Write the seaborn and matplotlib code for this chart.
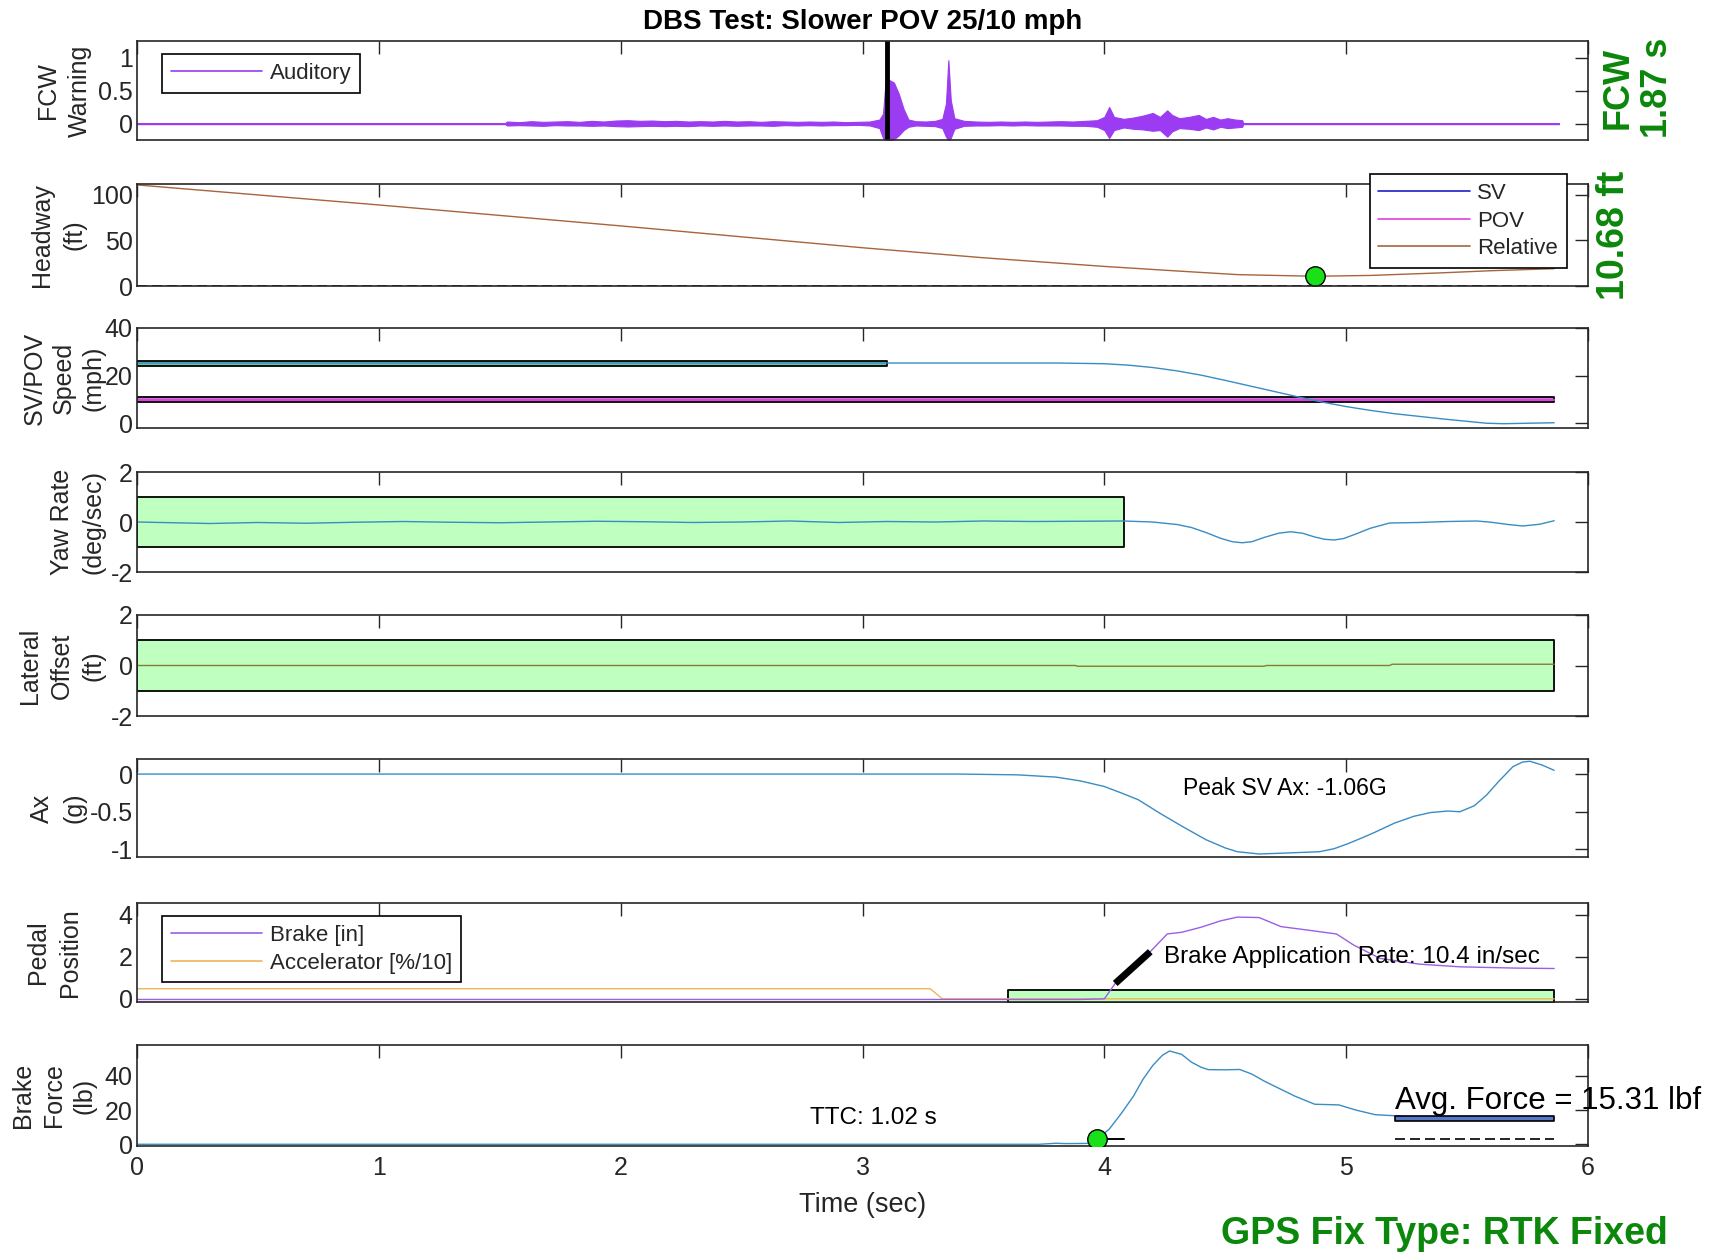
import matplotlib
matplotlib.use("Agg")
import matplotlib.pyplot as plt
from matplotlib.lines import Line2D
import seaborn as sns

sns.set_style("white")
plt.rcParams["font.family"] = ["Liberation Sans", "DejaVu Sans"]
plt.rcParams["axes.unicode_minus"] = False

# ---------------- data ----------------
time_ticks = [0, 1, 2, 3, 4, 5, 6]
t_end = 5.86

# FCW auditory signal (envelope of the recorded waveform)
aud_t = [0.00, 1.52, 1.53, 1.58, 1.63, 1.68, 1.73, 1.78, 1.83, 1.88,
         1.93, 1.98, 2.03, 2.08, 2.13, 2.18, 2.23, 2.28, 2.33, 2.38,
         2.43, 2.48, 2.53, 2.58, 2.63, 2.68, 2.73, 2.78, 2.83, 2.88,
         2.93, 2.98, 3.03, 3.07, 3.085, 3.095, 3.11, 3.13, 3.15, 3.17,
         3.19, 3.22, 3.26, 3.30, 3.33, 3.345, 3.355, 3.365, 3.38, 3.42,
         3.47, 3.52, 3.57, 3.62, 3.67, 3.72, 3.77, 3.82, 3.87, 3.92,
         3.97, 4.00, 4.02, 4.04, 4.08, 4.12, 4.16, 4.20, 4.23, 4.26,
         4.28, 4.31, 4.35, 4.39, 4.42, 4.45, 4.48, 4.51, 4.54, 4.57,
         4.575, 5.88]
aud_hi = [0, 0, .03, .02, .035, .025, .03, .035, .025, .04,
          .03, .045, .05, .04, .045, .035, .04, .03, .035, .03,
          .04, .03, .035, .025, .035, .03, .025, .03, .025, .03,
          .02, .025, .03, .06, .15, .62, .66, .62, .45, .22,
          .06, .035, .03, .04, .07, .3, .96, .35, .08, .04,
          .03, .025, .03, .025, .03, .025, .03, .035, .03, .04,
          .05, .1, .25, .1, .07, .09, .12, .16, .1, .2,
          .13, .08, .1, .13, .07, .1, .06, .08, .06, .05,
          0, 0]
aud_lo = [0, 0, -.03, -.025, -.03, -.035, -.025, -.03, -.03, -.035,
          -.03, -.04, -.045, -.04, -.035, -.04, -.035, -.04, -.03, -.035,
          -.03, -.035, -.03, -.03, -.035, -.025, -.03, -.025, -.03, -.025,
          -.025, -.02, -.03, -.07, -.22, -.25, -.25, -.24, -.18, -.1,
          -.05, -.03, -.035, -.04, -.07, -.2, -.25, -.22, -.08, -.035,
          -.03, -.03, -.025, -.03, -.025, -.03, -.03, -.03, -.035, -.035,
          -.05, -.1, -.22, -.1, -.06, -.08, -.09, -.11, -.1, -.2,
          -.12, -.07, -.08, -.1, -.06, -.09, -.05, -.07, -.06, -.05,
          0, 0]
aud_base_t = [0.0, 5.88]
aud_base = [0.0, 0.0]
fcw_onset = 3.10
fcw_ttc = 1.87

# headway (ft)
head_t = [0.0, 1.0, 2.0, 3.0, 3.5, 4.0, 4.3, 4.55, 4.87, 5.1, 5.4, 5.6, 5.86]
head_rel = [111, 89, 66, 42, 31, 21.5, 16.5, 12.5, 10.68, 11.6, 14.5, 16.8, 19.0]
head_dash_t = [0.0, 5.84]
head_dash = [0.0, 0.0]
min_head_t = 4.87
min_head = 10.68

# SV / POV speed (mph)
sv_t = [0.0, 3.1, 3.5, 3.8, 4.0, 4.1, 4.2, 4.3, 4.4, 4.5, 4.6, 4.7, 4.8,
        4.9, 5.0, 5.1, 5.2, 5.3, 5.4, 5.5, 5.58, 5.65, 5.75, 5.86]
sv_speed = [25.3, 25.3, 25.3, 25.3, 25.0, 24.4, 23.4, 22.0, 20.2, 18.0, 15.7,
            13.4, 11.1, 8.9, 7.0, 5.4, 4.0, 2.9, 1.8, 0.8, 0.0, -0.2, 0.0, 0.2]
sv_target = 25.0
sv_band_end = 3.1
pov_target = 9.9
speed_tol = 1.0

# yaw rate (deg/s)
yaw_t = [0.0, 0.15, 0.3, 0.5, 0.7, 0.9, 1.1, 1.3, 1.5, 1.7, 1.9, 2.1, 2.3,
         2.5, 2.7, 2.9, 3.1, 3.3, 3.5, 3.7, 3.9, 4.08, 4.2, 4.3, 4.36, 4.42,
         4.48, 4.53, 4.57, 4.61, 4.66, 4.72, 4.77, 4.82, 4.87, 4.91, 4.95,
         4.99, 5.04, 5.1, 5.18, 5.3, 5.42, 5.54, 5.6, 5.67, 5.73, 5.8, 5.86]
yaw = [0.0, -0.03, -0.06, -0.02, -0.05, -0.01, 0.02, -0.01, -0.03, 0.0, 0.03,
       0.01, -0.02, 0.0, 0.04, -0.02, 0.02, 0.0, 0.04, 0.02, 0.03, 0.04, 0.0,
       -0.1, -0.22, -0.42, -0.65, -0.79, -0.83, -0.79, -0.62, -0.45, -0.39,
       -0.45, -0.6, -0.69, -0.72, -0.66, -0.48, -0.25, -0.04, -0.02, 0.02,
       0.04, -0.01, -0.1, -0.16, -0.09, 0.05]
yaw_band_end = 4.08
yaw_tol = 1.0

# lateral offset (ft)
lat_t = [0.0, 3.88, 3.89, 4.66, 4.67, 5.18, 5.19, 5.86]
lat = [0.0, 0.0, -0.03, -0.03, 0.0, 0.0, 0.05, 0.05]
lat_tol = 1.0

# longitudinal acceleration (g)
ax_t = [0.0, 1.0, 2.0, 3.0, 3.4, 3.64, 3.8, 3.9, 4.0, 4.07, 4.14, 4.23, 4.32,
        4.42, 4.5, 4.55, 4.64, 4.73, 4.89, 4.95, 5.01, 5.07, 5.12, 5.2, 5.28,
        5.35, 5.42, 5.47, 5.53, 5.58, 5.63, 5.69, 5.73, 5.76, 5.81, 5.86]
ax_g = [0.0, 0.0, 0.0, 0.0, 0.0, -0.01, -0.04, -0.09, -0.165, -0.25, -0.34,
        -0.52, -0.69, -0.87, -0.98, -1.03, -1.06, -1.05, -1.03, -0.99, -0.92,
        -0.84, -0.77, -0.65, -0.56, -0.51, -0.49, -0.5, -0.42, -0.28, -0.1,
        0.1, 0.16, 0.17, 0.12, 0.05]

# pedal positions
brake_t = [0.0, 3.9, 4.0, 4.045, 4.19, 4.26, 4.32, 4.4, 4.48, 4.55, 4.64,
           4.73, 4.85, 4.96, 5.03, 5.14, 5.3, 5.47, 5.7, 5.86]
brake_in = [-0.03, -0.03, 0.0, 0.73, 2.24, 3.08, 3.16, 3.4, 3.7, 3.88, 3.86,
            3.43, 3.25, 3.08, 2.56, 1.92, 1.65, 1.52, 1.46, 1.44]
accel_t = [0.0, 3.28, 3.33, 5.86]
accel = [0.48, 0.48, 0.0, 0.0]
pedal_band = [3.6, 5.86]
pedal_band_top = 0.42
rate_t0 = 4.045
rate_y0 = 0.73
rate_t1 = 4.19
brake_rate = 10.4

# brake force (lb)
bf_t = [0.0, 3.0, 3.73, 3.8, 3.84, 3.93, 3.97, 4.02, 4.07, 4.12, 4.16, 4.2,
        4.24, 4.27, 4.32, 4.36, 4.40, 4.43, 4.5, 4.56, 4.61, 4.66, 4.71, 4.79,
        4.87, 4.92, 4.97, 5.04, 5.12, 5.21, 5.3, 5.5, 5.7, 5.86]
bf = [0.0, 0.0, 0.0, 0.6, 0.4, 0.5, 3.0, 8.8, 18, 28, 38, 46, 52, 54.5, 52.5,
      48, 45, 43.6, 43.5, 43.7, 41, 37, 33.5, 28, 23.4, 23.2, 23, 20, 17.3,
      16.6, 15.5, 15.3, 15.2, 15.3]
ttc_t = 3.97
ttc_force = 3.0
ttc_stub = [4.0, 4.08]
ttc = 1.02
avg_span = [5.2, 5.86]
avg_force = 15.31
avg_ref = 3.0

gps_fix = "RTK Fixed"

# ---------------- colours ----------------
PURPLE = "#9b3cf2"
BLUE = "#3a8cc4"
GREEN_TXT = "#0b870b"
BAND = "#bfffbf"
DOT = "#19e019"
INK = "#262626"

# ---------------- figure ----------------
W, H = 1718, 1254
fig = plt.figure(figsize=(W / 100, H / 100), dpi=100)
tops = [41, 184, 328, 472, 615, 759, 903, 1045]
bots = [140, 286, 428, 572, 716, 857, 1002, 1146]
axs = [fig.add_axes([137 / W, 1 - b / H, 1451 / W, (b - t) / H])
       for t, b in zip(tops, bots)]


def style(ax, ylim, yticks, ylabels, label, label_x, bottom=False,
          spacing=1.42):
    ax.set_xlim(0, 6)
    ax.set_ylim(*ylim)
    ax.set_xticks(time_ticks)
    ax.set_yticks(yticks)
    ax.set_yticklabels(ylabels)
    ax.tick_params(direction="in", length=9.5, width=1.0, top=True,
                   right=True, labelsize=18, colors=INK, pad=3)
    ax.tick_params(axis="x", labelbottom=bottom, pad=7)
    for s in ax.spines.values():
        s.set_color(INK)
        s.set_linewidth(1.2)
    ax.set_xlabel("")
    ax.set_ylabel(label, fontsize=18, color=INK, linespacing=spacing)
    ax.yaxis.set_label_coords(label_x, 0.5)


def legend(ax, handles, labels, loc, anchor):
    leg = ax.legend(handles, labels, loc=loc, bbox_to_anchor=anchor,
                    fontsize=16, fancybox=False, framealpha=1,
                    edgecolor="black", handlelength=4.1, handletextpad=0.35,
                    borderpad=0.4, labelspacing=0.3, borderaxespad=0)
    leg.get_frame().set_linewidth(1.2)
    for txt in leg.get_texts():
        txt.set_color(INK)
    return leg


# 1) FCW warning
ax = axs[0]
ax.fill_between(aud_t, aud_lo, aud_hi, color=PURPLE, lw=0.8)
sns.lineplot(x=aud_base_t, y=aud_base, ax=ax, color=PURPLE, lw=1.0)
ax.axvline(fcw_onset, color="black", lw=3.5)
style(ax, (-0.25, 1.25), [0, 0.5, 1], ["0", "0.5", "1"], "FCW\nWarning", -0.031)
legend(ax, [Line2D([], [], color=PURPLE, lw=1.2)], ["Auditory"],
       "upper left", (0.0172, 0.87))
ax.text(1.0345, 0.53, f"FCW\n{fcw_ttc:.2f} s", transform=ax.transAxes,
        rotation=90, ha="center", va="center", fontsize=26,
        fontweight="bold", color=GREEN_TXT, linespacing=1.15)

# 2) headway
ax = axs[1]
sns.lineplot(x=head_t, y=head_rel, ax=ax, color="#a8643c", lw=1.0)
ax.plot(head_dash_t, head_dash, color="black", lw=1.2, ls=(0, (6, 3)))
ax.plot([min_head_t], [min_head], "o", ms=14, mfc=DOT, mec="black", mew=1.0)
style(ax, (0, 112), [0, 50, 100], ["0", "50", "100"], "Headway\n(ft)", -0.035)
legend(ax, [Line2D([], [], color="#1f1fc8", lw=1.2),
            Line2D([], [], color="#e040e0", lw=1.2),
            Line2D([], [], color="#a8643c", lw=1.2)],
       ["SV", "POV", "Relative"], "upper right", (0.9855, 1.098))
ax.text(1.018, 0.5, f"{min_head:.2f} ft", transform=ax.transAxes,
        rotation=90, ha="center", va="center", fontsize=27,
        fontweight="bold", color=GREEN_TXT)

# 3) SV / POV speed
ax = axs[2]
ax.fill_between([0, sv_band_end], sv_target - speed_tol, sv_target + speed_tol,
                facecolor="#6cc29a", edgecolor="black", lw=1.3)
ax.fill_between([0, t_end], pov_target - speed_tol, pov_target + speed_tol,
                facecolor="#c97ad0", edgecolor="black", lw=1.3)
ax.plot([0, t_end], [pov_target, pov_target], color="#e040e0", lw=1.5)
sns.lineplot(x=sv_t, y=sv_speed, ax=ax, color=BLUE, lw=1.0)
style(ax, (-2, 40), [0, 20, 40], ["0", "20", "40"],
      "SV/POV\nSpeed\n(mph)", -0.0214, spacing=1.3)

# 4) yaw rate
ax = axs[3]
ax.fill_between([0, yaw_band_end], -yaw_tol, yaw_tol, facecolor=BAND,
                edgecolor="black", lw=1.3)
sns.lineplot(x=yaw_t, y=yaw, ax=ax, color=BLUE, lw=1.0)
style(ax, (-2, 2), [-2, 0, 2], ["-2", "0", "2"], "Yaw Rate\n(deg/sec)", -0.0214)

# 5) lateral offset
ax = axs[4]
ax.fill_between([0, t_end], -lat_tol, lat_tol, facecolor=BAND,
                edgecolor="black", lw=1.3)
sns.lineplot(x=lat_t, y=lat, ax=ax, color="#8a7a32", lw=1.0)
style(ax, (-2, 2), [-2, 0, 2], ["-2", "0", "2"], "Lateral\nOffset\n(ft)", -0.0214)

# 6) longitudinal acceleration
ax = axs[5]
sns.lineplot(x=ax_t, y=ax_g, ax=ax, color=BLUE, lw=1.0)
style(ax, (-1.1, 0.2), [-1, -0.5, 0], ["-1", "-0.5", "0"], "Ax\n(g)", -0.035)
ax.text(4.748, -0.19, f"Peak SV Ax: {min(ax_g):.2f}G", ha="center",
        va="center", fontsize=16.5, color="black")

# 7) pedal position
ax = axs[6]
ax.fill_between(pedal_band, -0.2, pedal_band_top, facecolor=BAND,
                edgecolor="black", lw=1.3)
sns.lineplot(x=accel_t, y=accel, ax=ax, color="#eeb55a", lw=1.0)
sns.lineplot(x=brake_t, y=brake_in, ax=ax, color="#9a5fe6", lw=1.0)
rate_y1 = rate_y0 + brake_rate * (rate_t1 - rate_t0)
ax.plot([rate_t0, rate_t1], [rate_y0, rate_y1], color="black", lw=5,
        solid_capstyle="butt")
style(ax, (-0.15, 4.55), [0, 2, 4], ["0", "2", "4"], "Pedal\nPosition", -0.038)
legend(ax, [Line2D([], [], color="#9a5fe6", lw=1.2),
            Line2D([], [], color="#eeb55a", lw=1.2)],
       ["Brake [in]", "Accelerator [%/10]"], "upper left", (0.0172, 0.869))
ax.text(4.247, 1.98, f"Brake Application Rate: {brake_rate:.1f} in/sec",
        ha="left", va="center", fontsize=17.5, color="black")

# 8) brake force
ax = axs[7]
sns.lineplot(x=bf_t, y=bf, ax=ax, color=BLUE, lw=1.0)
ax.plot(ttc_stub, [ttc_force, ttc_force], color="black", lw=1.4)
ax.plot([ttc_t], [ttc_force], "o", ms=14, mfc=DOT, mec="black", mew=1.0,
        zorder=5)
ax.fill_between(avg_span, avg_force - 1.5, avg_force + 1.5,
                facecolor="#5577cc", edgecolor="black", lw=1.2, zorder=4)
ax.plot(avg_span, [avg_ref, avg_ref], color="black", lw=1.2,
        ls=(0, (6, 3)))
style(ax, (-1, 58), [0, 20, 40], ["0", "20", "40"], "Brake\nForce\n(lb)",
      -0.028, bottom=True, spacing=1.35)
ax.set_xticklabels([str(v) for v in time_ticks])
ax.set_xlabel("Time (sec)", fontsize=19.5, color=INK)
ax.xaxis.set_label_coords(0.5, -0.58)
ax.xaxis.label.set_va("center")
ax.text(3.045, 15.6, f"TTC: {ttc:.2f} s", ha="center", va="center",
        fontsize=17.5, color="black")
ax.text(5.203, 25.5, f"Avg. Force = {avg_force:.2f} lbf", ha="left",
        va="center", fontsize=22.5, color="black", clip_on=False)

fig.text(862.5 / W, 1 - 22 / H, "DBS Test: Slower POV 25/10 mph",
         ha="center", va="center", fontsize=20, fontweight="bold",
         color="black")
fig.text(1444.5 / W, 1 - 1234 / H, f"GPS Fix Type: {gps_fix}",
         ha="center", va="center", fontsize=27, fontweight="bold",
         color=GREEN_TXT)

fig.savefig("out.png", dpi=100)
